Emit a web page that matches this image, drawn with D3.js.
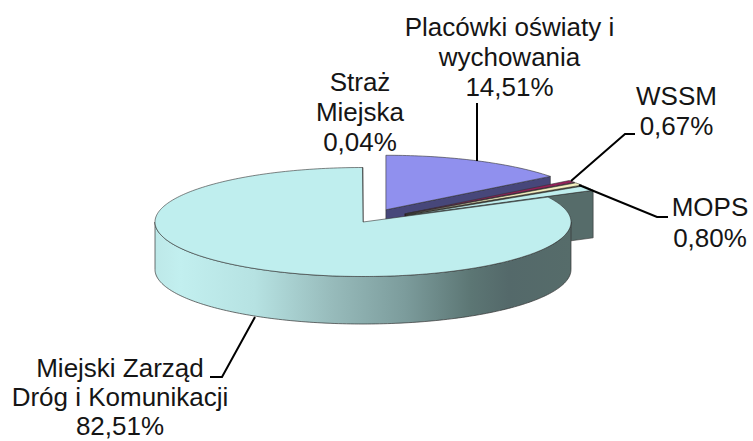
<!DOCTYPE html>
<html><head><meta charset="utf-8">
<script src="https://cdn.jsdelivr.net/npm/d3@7"></script>
<style>html,body{margin:0;padding:0;background:#fff}svg{display:block}text{font-family:"Liberation Sans",Arial,sans-serif;font-size:26px;fill:#151515;text-anchor:middle}</style>
</head><body><svg id="c" width="753" height="441"></svg>
<script>
const categories = ["Placówki oświaty i wychowania","WSSM","MOPS","(pozostałe)","Miejski Zarząd Dróg i Komunikacji","Straż Miejska"];
const values = [14.51,0.67,0.80,1.47,82.51,0.04];
const topColors = ["#9090ee","#96205a","#f4f0c0","#bfeeee","#bfeeee","#000000"];
const wallColors = ["#47477a","#2a0a20","#3c3a28","#566c6a","#566c6a","#000000"];
const explodedCategories = ["Placówki oświaty i wychowania","WSSM","MOPS","(pozostałe)"];
const labelLines = [
 {lines:["Placówki oświaty i","wychowania","14,51%"],x:509.5,y:36,dy:30},
 {lines:["Straż","Miejska","0,04%"],x:360,y:90.5,dy:30},
 {lines:["WSSM","0,67%"],x:676.5,y:105,dy:30},
 {lines:["MOPS","0,80%"],x:710,y:216,dy:31},
 {lines:["Miejski Zarząd","Dróg i Komunikacji","82,51%"],x:120,y:376.5,dy:29.2}
];
const leaders = [
 [[477,103],[477,161]],
 [[571,181],[625,134],[635,134]],
 [[579,185],[657,217],[668,217]],
 [[255,317],[222,377],[210,377]]
];

const svg = d3.select("#c");
const rx=208, ry=54.5, depth=47.5, cx=363, cy=222, explodeRx=52;
const xS = d3.scaleLinear().domain([-1,1]).range([cx-rx,cx+rx]);
const yS = d3.scaleLinear().domain([-1,1]).range([cy+ry,cy-ry]);
const pie = d3.pie().sort(null).startAngle(0).endAngle(2*Math.PI);
const arcs = pie(values);
const defs = svg.append("defs");
const g = defs.append("linearGradient").attr("id","side").attr("gradientUnits","userSpaceOnUse")
  .attr("x1",xS(-1)).attr("x2",xS(1)).attr("y1",0).attr("y2",0);
[[0,"#bde8e8"],[0.06,"#c2efef"],[0.24,"#b6e2e2"],[0.42,"#98bcbc"],[0.6,"#7c9c9c"],[0.76,"#5c7674"],[0.85,"#54696a"],[1,"#566c6a"]]
  .forEach(([o,c])=>g.append("stop").attr("offset",o).attr("stop-color",c));

function pt(a,o,r=1,dz=0){ return [xS(Math.sin(a)*r)+o[0], yS(Math.cos(a)*r)+o[1]+dz]; }
function arcPts(a0,a1,o,dz=0){
  const n=Math.max(2,Math.ceil((a1-a0)/0.02));
  return d3.range(n+1).map(i=>pt(a0+(a1-a0)*i/n,o,1,dz));
}
const line=d3.line();
const order=[0,1,2,3,5,4];
const edge="#333";
order.forEach(i=>{
  const d=arcs[i], exploded=explodedCategories.includes(categories[i]);
  const mid=(d.startAngle+d.endAngle)/2;
  const k=exploded?explodeRx/rx:0;
  const o=[xS(Math.sin(mid)*k)-cx, yS(Math.cos(mid)*k)-cy];
  const a0=d.startAngle,a1=d.endAngle;
  const c=pt(0,o,0);
  const gr=svg.append("g");
  if(a1<Math.PI){
    const e=pt(a1,o);
    gr.append("path").attr("d",line([c,e,[e[0],e[1]+depth],[c[0],c[1]+depth]])+"Z")
      .attr("fill",wallColors[i]).attr("stroke",edge).attr("stroke-width",0.6);
  }
  const wa0=Math.max(a0,Math.PI/2), wa1=Math.min(a1,3*Math.PI/2);
  if(wa1>wa0){
    const top=arcPts(wa0,wa1,o), bot=arcPts(wa0,wa1,o,depth).reverse();
    gr.append("path").attr("d",line(top.concat(bot))+"Z")
      .attr("fill",categories[i].startsWith("Miejski")?"url(#side)":wallColors[i])
      .attr("stroke",edge).attr("stroke-width",0.7);
  }
  gr.append("path").attr("d",line([c].concat(arcPts(a0,a1,o)))+"Z")
    .attr("fill",topColors[i]).attr("stroke",edge).attr("stroke-width",0.6);
});
leaders.forEach(l=>svg.append("path").attr("d",line(l)).attr("fill","none").attr("stroke","#000").attr("stroke-width",2));
labelLines.forEach(l=>{
  const t=svg.append("text").attr("x",l.x).attr("y",l.y);
  l.lines.forEach((s,i)=>t.append("tspan").attr("x",l.x).attr("y",l.y+i*l.dy).text(s));
});
</script></body></html>
